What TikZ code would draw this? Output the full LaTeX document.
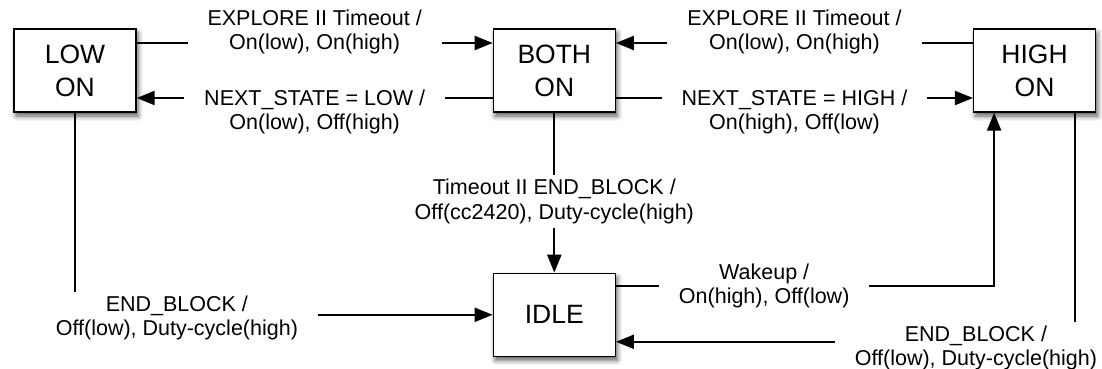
\documentclass[tikz,border=0pt]{standalone}
\usepackage{fontspec}
\setmainfont{Liberation Sans}
\usetikzlibrary{arrows.meta, positioning, shadows.blur}

\begin{document}
\begin{tikzpicture}[
        x=1pt, y=1pt,
        state/.style={draw, line width=1.3pt, fill=white, minimum width=122pt, minimum height=83pt,
            inner sep=0pt, align=center, font=\fontsize{26.5}{33}\selectfont,
            blur shadow={shadow xshift=2pt, shadow yshift=-4pt, shadow blur radius=5pt, shadow opacity=65}},
        trans/.style={line width=2.2pt, -{Triangle[length=18pt,width=14pt]}},
        lbl/.style={fill=white, inner xsep=20pt, inner ysep=4pt, align=center,
            font=\fontsize{21.5}{24.5}\selectfont},
    ]
        \useasboundingbox (0,0) rectangle (1102,-369);

        % states
        \node[state] (low) at (75,-70.5) {LOW\\ON};
        \node[state, right=356pt of low] (both) {BOTH\\ON};
        \node[state, right=357pt of both] (high) {HIGH\\ON};
        \node[state, below=160pt of both] (idle) {IDLE};

        % transitions between the on states
        \draw[trans] ([yshift=27.5pt]low.east) -- node[lbl, yshift=11pt] {EXPLORE II Timeout /\\On(low), On(high)} ([yshift=27.5pt]both.west);
        \draw[trans] ([yshift=-27.5pt]both.west) -- node[lbl, yshift=-14pt] {NEXT\_STATE = LOW /\\On(low), Off(high)} ([yshift=-27.5pt]low.east);
        \draw[trans] ([yshift=27.5pt]high.west) -- node[lbl, yshift=11pt] {EXPLORE II Timeout /\\On(low), On(high)} ([yshift=27.5pt]both.east);
        \draw[trans] ([yshift=-27.5pt]both.east) -- node[lbl, yshift=-14pt] {NEXT\_STATE = HIGH /\\On(high), Off(low)} ([yshift=-27.5pt]high.west);

        % transitions to and from idle
        \draw[trans] (both.south) -- node[lbl, yshift=-9pt] {Timeout II END\_BLOCK /\\Off(cc2420), Duty-cycle(high)} (idle.north);
        \draw[trans] (low.south) |- node[lbl, pos=0.622, yshift=-3pt] {END\_BLOCK /\\Off(low), Duty-cycle(high)} (idle.west);
        \draw[trans] ([yshift=29pt]idle.east) -| node[lbl, pos=0.196] {Wakeup /\\On(high), Off(low)} ([xshift=-40.5pt]high.south);
        \draw[trans] ([xshift=40.5pt]high.south) |- node[lbl, pos=0.608, yshift=-6pt] {END\_BLOCK /\\Off(low), Duty-cycle(high)} ([yshift=-27pt]idle.east);
\end{tikzpicture}
\end{document}
